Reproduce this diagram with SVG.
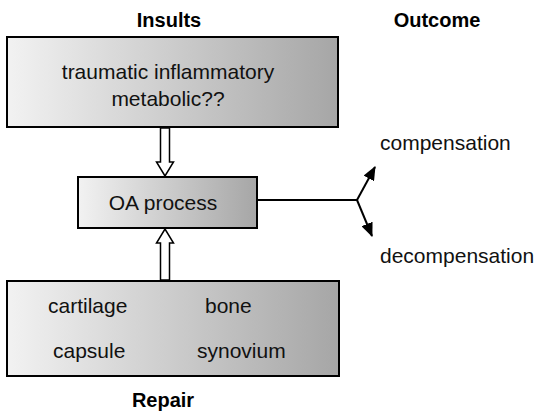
<svg xmlns="http://www.w3.org/2000/svg" width="534" height="413" viewBox="0 0 534 413">
<defs>
<linearGradient id="g" x1="0" y1="0" x2="1" y2="0">
<stop offset="0" stop-color="#f2f2f2"/>
<stop offset="1" stop-color="#a6a6a6"/>
</linearGradient>
<marker id="ah" viewBox="0 0 14 12" refX="13" refY="6" markerWidth="14" markerHeight="12" markerUnits="userSpaceOnUse" orient="auto">
<path d="M0,0 L14,6 L0,12 Z" fill="#000"/>
</marker>
</defs>
<style>
.box{fill:url(#g);stroke:#000;stroke-width:2}
.t{font-family:"Liberation Sans",Arial,sans-serif;font-size:21px;fill:#111}
.b{font-family:"Liberation Sans",Arial,sans-serif;font-size:20px;font-weight:bold;fill:#000}
.hollow{fill:#fff;stroke:#000;stroke-width:1.5}
.ln{fill:none;stroke:#000;stroke-width:2}
</style>
<text class="b" x="169" y="27" text-anchor="middle">Insults</text>
<text class="b" x="437" y="27" text-anchor="middle">Outcome</text>
<text class="b" x="163" y="407" text-anchor="middle">Repair</text>
<g id="insults">
<rect class="box" x="7" y="37" width="331" height="90"/>
<text class="t" x="168" y="79" text-anchor="middle">traumatic inflammatory</text>
<text class="t" x="168" y="106" text-anchor="middle">metabolic??</text>
</g>
<g id="oa">
<rect class="box" x="78" y="177" width="179" height="51"/>
<text class="t" x="163" y="210" text-anchor="middle">OA process</text>
</g>
<g id="repair">
<rect class="box" x="7" y="281" width="332" height="95"/>
<text class="t" x="48" y="313">cartilage</text>
<text class="t" x="205" y="313">bone</text>
<text class="t" x="53" y="358">capsule</text>
<text class="t" x="197" y="358">synovium</text>
</g>
<g id="compensation"><text class="t" x="380" y="150">compensation</text></g>
<g id="decompensation"><text class="t" x="380" y="263">decompensation</text></g>
<g id="connectors">
<path class="hollow" d="M160.5,128 L169.5,128 L169.5,162 L173.5,162 L165,176 L156.5,162 L160.5,162 Z"/>
<path class="hollow" d="M160.5,280 L169.5,280 L169.5,243 L173.5,243 L165,229 L156.5,243 L160.5,243 Z"/>
<path class="ln" d="M257,200 L357,200"/>
<path class="ln" d="M357,200 L375,167" marker-end="url(#ah)"/>
<path class="ln" d="M357,200 L372,236" marker-end="url(#ah)"/>
</g>
</svg>
